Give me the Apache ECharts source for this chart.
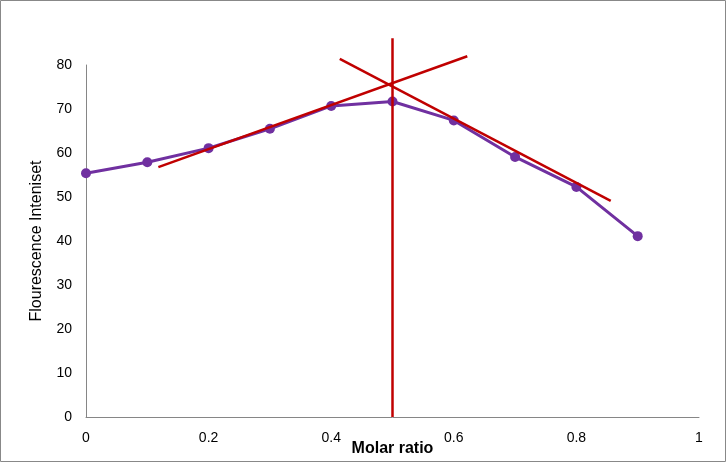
<!DOCTYPE html>
<html>
<head>
<meta charset="utf-8">
<title>Molar ratio</title>
<script src="https://cdn.jsdelivr.net/npm/echarts@6/dist/echarts.min.js"></script>
<style>
  html, body { margin: 0; padding: 0; background: #fff; }
  #chart { width: 726px; height: 462px; }
</style>
</head>
<body>
<div id="chart"></div>
<script>
// measured points (purple)
var molarRatio = [0, 0.1, 0.2, 0.3, 0.4, 0.5, 0.6, 0.7, 0.8, 0.9];
var intensity = [55.4, 57.9, 61.1, 65.5, 70.7, 71.7, 67.4, 59.1, 52.3, 41.1];

// red fitted lines (endpoints)
var riseLine = [[0.118, 56.8], [0.622, 82.0]];
var fallLine = [[0.414, 81.4], [0.856, 49.1]];
var crossLine = [[0.5, 0], [0.5, 86.1]];

var pts = [];
for (var i = 0; i < molarRatio.length; i++) {
  pts.push([molarRatio[i], intensity[i]]);
}

var font = 'Liberation Sans';
var chart = echarts.init(document.getElementById('chart'));

function redLine(d) {
  return {
    type: 'line',
    data: d,
    symbol: 'none',
    clip: false,
    z: 3,
    lineStyle: { color: '#C00000', width: 2.5 },
    silent: true
  };
}

chart.setOption({
  animation: false,
  textStyle: { fontFamily: font },
  graphic: [{
    type: 'rect',
    shape: { x: 0.5, y: 0.5, width: 725, height: 461 },
    style: { fill: 'none', stroke: '#888', lineWidth: 1 }
  }],
  grid: { left: 86, right: 27, top: 65, bottom: 45, outerBoundsMode: 'none', containLabel: false },
  xAxis: {
    type: 'value',
    min: 0, max: 1, interval: 0.2,
    name: 'Molar ratio',
    nameLocation: 'middle',
    nameGap: 24,
    nameMoveOverlap: false,
    nameTextStyle: { fontSize: 16, fontWeight: 'bold', color: '#000', fontFamily: font },
    axisLine: { show: true, lineStyle: { color: '#868686', width: 1 } },
    axisTick: { show: false },
    splitLine: { show: false },
    axisLabel: { fontSize: 14, color: '#000', margin: 14, fontFamily: font }
  },
  yAxis: {
    type: 'value',
    min: 0, max: 80, interval: 10,
    name: 'Flourescence Inteniset',
    nameLocation: 'middle',
    nameGap: 41,
    nameMoveOverlap: false,
    nameTextStyle: { fontSize: 16, color: '#000', fontFamily: font },
    axisLine: { show: true, lineStyle: { color: '#868686', width: 1 } },
    axisTick: { show: false },
    splitLine: { show: false },
    axisLabel: { fontSize: 14, color: '#000', margin: 14, fontFamily: font }
  },
  series: [
    {
      type: 'line',
      data: pts,
      symbol: 'circle',
      symbolSize: 10,
      z: 2,
      lineStyle: { color: '#7030A0', width: 3 },
      itemStyle: { color: '#7030A0' }
    },
    redLine(riseLine),
    redLine(fallLine),
    redLine(crossLine)
  ]
});
</script>
</body>
</html>
